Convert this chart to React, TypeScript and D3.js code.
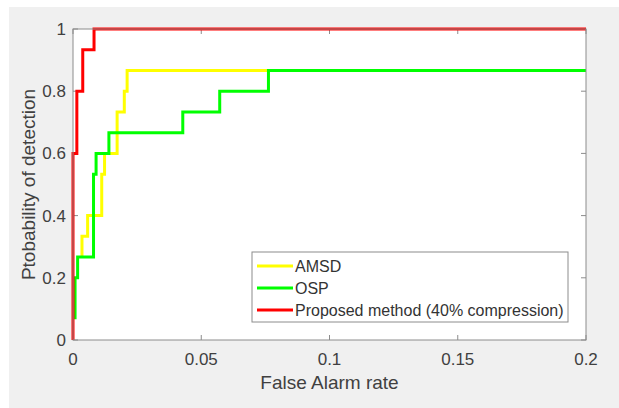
import React from "react";
import * as d3 from "d3";

const xTicks = [0, 0.05, 0.1, 0.15, 0.2];
const xTickLabels = ["0", "0.05", "0.1", "0.15", "0.2"];
const yTicks = [0, 0.2, 0.4, 0.6, 0.8, 1];
const yTickLabels = ["0", "0.2", "0.4", "0.6", "0.8", "1"];

const seriesNames = ["AMSD", "OSP", "Proposed method (40% compression)"];
const seriesColors = ["#ffff00", "#00ff00", "#ff0000"];

// step-after vertices (false alarm rate, probability of detection)
const amsdFpr = [0.0035, 0.0035, 0.0057, 0.0112, 0.0123, 0.0172, 0.02, 0.0211, 0.2];
const amsdPd = [0.2667, 0.3333, 0.4, 0.5333, 0.6, 0.7333, 0.8, 0.8667, 0.8667];

const ospFpr = [0.0008, 0.0008, 0.0018, 0.008, 0.009, 0.014, 0.0428, 0.0572, 0.0762, 0.2];
const ospPd = [0.0667, 0.2, 0.2667, 0.5333, 0.6, 0.6667, 0.7333, 0.8, 0.8667, 0.8667];

const propFpr = [0, 0, 0.0015, 0.0038, 0.0082, 0.2];
const propPd = [0, 0.6, 0.8, 0.9333, 1, 1];

const seriesFpr = [amsdFpr, ospFpr, propFpr];
const seriesPd = [amsdPd, ospPd, propPd];

export default function App() {
  const W = 619, H = 408;
  const L = 73, R = 586, T = 29, B = 340;
  const x = d3.scaleLinear().domain([0, 0.2]).range([L, R]);
  const y = d3.scaleLinear().domain([0, 1]).range([B, T]);
  const line = d3
    .line<[number, number]>()
    .x((d) => x(d[0]))
    .y((d) => y(d[1]))
    .curve(d3.curveStepAfter);
  const axisColor = "#8c8c8c";
  const textColor = "#404040";
  const font = "'Liberation Sans', Arial, sans-serif";
  const tickLen = 5;

  const legX = 252, legY = 252, legW = 316, legH = 70;
  const rowY = [266, 288, 310];

  return (
    <svg
      width={W}
      height={H}
      style={{ position: "absolute", left: 0, top: 0, display: "block" }}
      fontFamily={font}
    >
      <rect x={0} y={0} width={W} height={H} fill="#ffffff" />
      <rect x={9} y={7} width={W - 9} height={H - 7} fill="#f0f0f0" />
      <rect x={L} y={T} width={R - L} height={B - T} fill="#ffffff" />
      {/* ticks */}
      {xTicks.map((t, i) => (
        <g key={"xt" + i}>
          <line x1={x(t)} x2={x(t)} y1={B} y2={B - tickLen} stroke={axisColor} />
          <line x1={x(t)} x2={x(t)} y1={T} y2={T + tickLen} stroke={axisColor} />
          <text
            x={x(t)}
            y={365}
            textAnchor="middle"
            fontSize={17}
            fill={textColor}
          >
            {xTickLabels[i]}
          </text>
        </g>
      ))}
      {yTicks.map((t, i) => (
        <g key={"yt" + i}>
          <line x1={L} x2={L + tickLen} y1={y(t)} y2={y(t)} stroke={axisColor} />
          <line x1={R} x2={R - tickLen} y1={y(t)} y2={y(t)} stroke={axisColor} />
          <text
            x={66}
            y={y(t) + 6}
            textAnchor="end"
            fontSize={17}
            fill={textColor}
          >
            {yTickLabels[i]}
          </text>
        </g>
      ))}
      {/* series */}
      {seriesNames.map((name, s) => {
        const pts: [number, number][] = seriesFpr[s].map((f, i) => [f, seriesPd[s][i]]);
        return (
          <path
            key={name}
            d={line(pts) || ""}
            fill="none"
            stroke={seriesColors[s]}
            strokeWidth={3}
          />
        );
      })}
      <rect
        x={L}
        y={T}
        width={R - L}
        height={B - T}
        fill="none"
        stroke={axisColor}
        strokeWidth={1}
      />
      {/* axis labels */}
      <text x={(L + R) / 2} y={389} textAnchor="middle" fontSize={19} fill={textColor}>
        False Alarm rate
      </text>
      <text
        transform={`translate(35,${(T + B) / 2}) rotate(-90)`}
        textAnchor="middle"
        fontSize={19}
        fill={textColor}
      >
        Ptobability of detection
      </text>
      {/* legend */}
      <rect x={legX} y={legY} width={legW} height={legH} fill="#ffffff" stroke={axisColor} strokeWidth={1} />
      {seriesNames.map((name, s) => (
        <g key={"leg" + s}>
          <line x1={257} x2={293} y1={rowY[s]} y2={rowY[s]} stroke={seriesColors[s]} strokeWidth={3} />
          <text x={295} y={rowY[s] + 5.5} fontSize={16} fill="#333333">
            {name}
          </text>
        </g>
      ))}
    </svg>
  );
}
